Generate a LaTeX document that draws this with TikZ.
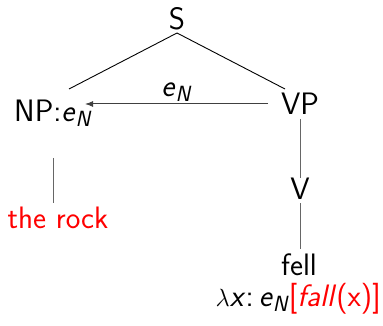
\documentclass[tikz,border=0pt]{standalone}
\usepackage{fontspec}
\usetikzlibrary{arrows.meta}
\definecolor{lred}{RGB}{255,0,0}
\newcommand{\eN}{\textit{e}\raisebox{-5pt}{\fontsize{22}{24}\selectfont\textit{N}}}
\begin{document}
\begin{tikzpicture}[x=1pt,y=-1pt,
  lbl/.style={inner sep=0pt, anchor=base, text=black, font=\sffamily\fontsize{31}{34}\selectfont},
  edge/.style={line width=0.9pt, black},
  vedge/.style={line width=1pt, black!60},
  fn/.style={line width=1pt, black!75, -{Latex[length=8pt,width=6pt]}}]
\useasboundingbox (0,0) rectangle (383,326);
\node[lbl] (S) at (177,30) {S};
\node[lbl, anchor=base west] (NP) at (14,122) {NP:\eN};
\node[lbl] (VP) at (300,115) {VP};
\node[lbl] (V) at (300,200) {V};
\node[lbl] (fell) at (299,275) {fell};
\node[lbl, text=lred] (rock) at (58,228) {the rock};
\node[lbl, anchor=base east] (sem) at (381,306) {$\lambda$\textit{x}:\,\eN\textcolor{lred}{[\textit{fall}(x)]}};
\coordinate (Sb) at (177,33);
\coordinate (NPt) at (69,89);
\coordinate (VPt) at (285,89);
\coordinate (NPb) at (53,158);
\coordinate (rockt) at (53,203);
\coordinate (VPb) at (300,119);
\coordinate (Vt) at (300,178);
\coordinate (Vb) at (300,203);
\coordinate (fellt) at (300,249);
\coordinate (VPw) at (268,104);
\coordinate (NPe) at (85,104);
\draw[edge] (Sb) -- (NPt);
\draw[edge] (Sb) -- (VPt);
\draw[vedge] (NPb) -- (rockt);
\draw[vedge] (VPb) -- (Vt);
\draw[vedge] (Vb) -- (fellt);
\draw[fn] (VPw) -- node[lbl, anchor=base, yshift=7pt] (elab) {\eN} (NPe);
\end{tikzpicture}
\end{document}
